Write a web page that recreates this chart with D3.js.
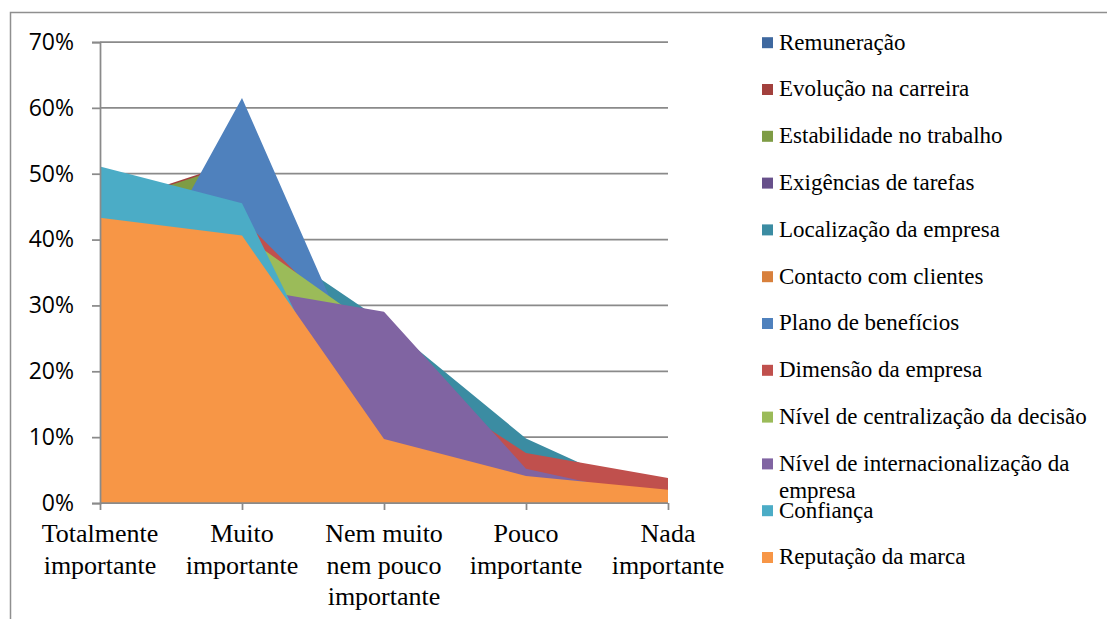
<!DOCTYPE html>
<html>
<head>
<meta charset="utf-8">
<script src="https://cdn.jsdelivr.net/npm/d3@7"></script>
<style>
  html, body { margin: 0; padding: 0; background: #fff; }
  svg { display: block; }
</style>
</head>
<body>
<svg id="chart" width="1107" height="619"></svg>
<script>
// Response categories (x axis), one label line per entry
const categories = ["Totalmente importante", "Muito importante", "Nem muito nem pouco importante", "Pouco importante", "Nada importante"];
const categoryLines = [
  ["Totalmente", "importante"],
  ["Muito", "importante"],
  ["Nem muito", "nem pouco", "importante"],
  ["Pouco", "importante"],
  ["Nada", "importante"]
];
const yTicks = [0, 0.1, 0.2, 0.3, 0.4, 0.5, 0.6, 0.7];

// Share of answers per factor, in category order
const remuneracao         = [0.40, 0.40, 0.14, 0.05, 0.01];
const evolucaoCarreira    = [0.450, 0.521, 0.022, 0.007, 0.000];
const estabilidade        = [0.448, 0.518, 0.024, 0.010, 0.000];
const exigencias          = [0.35, 0.42, 0.17, 0.05, 0.01];
const localizacao         = [0.206, 0.421, 0.275, 0.098, 0.000];
const contacto            = [0.28, 0.42, 0.22, 0.06, 0.02];
const planoBeneficios     = [0.223, 0.615, 0.124, 0.030, 0.008];
const dimensao            = [0.238, 0.432, 0.216, 0.076, 0.038];
const centralizacao       = [0.287, 0.408, 0.255, 0.040, 0.010];
const internacionalizacao = [0.325, 0.3275, 0.2905, 0.052, 0.005];
const confianca           = [0.511, 0.455, 0.014, 0.015, 0.005];
const reputacao           = [0.433, 0.406, 0.097, 0.041, 0.020];

const seriesNames = [
  "Remuneração", "Evolução na carreira", "Estabilidade no trabalho", "Exigências de tarefas",
  "Localização da empresa", "Contacto com clientes", "Plano de benefícios", "Dimensão da empresa",
  "Nível de centralização da decisão", "Nível de internacionalização da empresa", "Confiança", "Reputação da marca"
];
const seriesValues = [
  remuneracao, evolucaoCarreira, estabilidade, exigencias, localizacao, contacto,
  planoBeneficios, dimensao, centralizacao, internacionalizacao, confianca, reputacao
];
const seriesColors = [
  "#3E689F", "#A2403D", "#7E9C45", "#67508B", "#3B8CA2", "#D8803C",
  "#4F81BD", "#C0504D", "#9BBB59", "#8064A2", "#4BACC6", "#F79646"
];
// Legend text, with the long entry split over two lines
const legendLines = seriesNames.map(n =>
  n === "Nível de internacionalização da empresa" ? ["Nível de internacionalização da", "empresa"] : [n]);

const series = seriesNames.map((name, i) => ({ name, values: seriesValues[i], color: seriesColors[i], lines: legendLines[i] }));

const SERIF = "Liberation Serif";
const SANS = "Open Sans";

const svg = d3.select("#chart");
const gridColor = "#8a8a8a";

// outer frame (top and left edges are within the view)
svg.append("rect")
  .attr("x", 10.5).attr("y", 12.5)
  .attr("width", 1200).attr("height", 700)
  .attr("fill", "none").attr("stroke", "#8f8f8f").attr("stroke-width", 1.5);

const x = d3.scalePoint().domain(categories).range([100, 668]);
const y = d3.scaleLinear().domain([0, 0.7]).range([503, 42]);

// horizontal gridlines
svg.append("g")
  .selectAll("line")
  .data(yTicks.filter(t => t > 0))
  .join("line")
  .attr("x1", 100).attr("x2", 668)
  .attr("y1", d => y(d)).attr("y2", d => y(d))
  .attr("stroke", gridColor).attr("stroke-width", 1.75);

// overlapping areas, first series at the back
const area = d3.area()
  .x((d, i) => x(categories[i]))
  .y0(y(0))
  .y1(d => y(d));

svg.append("g")
  .selectAll("path")
  .data(series)
  .join("path")
  .attr("d", d => area(d.values))
  .attr("fill", d => d.color);

// y axis
const yAxis = d3.axisLeft(y).tickValues(yTicks).tickFormat(d3.format(".0%")).tickSize(8).tickPadding(18);
const gy = svg.append("g").attr("transform", "translate(100,0)").call(yAxis);
gy.select(".domain").attr("stroke", gridColor).attr("stroke-width", 1.75);
gy.selectAll(".tick line").attr("stroke", gridColor).attr("stroke-width", 1.75);
gy.selectAll(".tick text")
  .attr("font-family", SANS).attr("font-size", 23)
  .style("font-family", SANS).style("font-size", "23px")
  .attr("fill", "#000");

// x axis
const xAxis = d3.axisBottom(x).tickSize(7).tickFormat("");
const gx = svg.append("g").attr("transform", "translate(0,503)").call(xAxis);
gx.select(".domain").attr("stroke", gridColor).attr("stroke-width", 1.75).attr("d", "M100,0H668");
gx.selectAll(".tick line").attr("stroke", gridColor).attr("stroke-width", 1.75);

const xLabels = svg.append("g");
categories.forEach((c, i) => {
  categoryLines[i].forEach((ln, j) => {
    xLabels.append("text")
      .attr("x", x(c)).attr("y", 542 + j * 31.5)
      .attr("text-anchor", "middle")
      .attr("font-family", SERIF).attr("font-size", 26)
      .style("font-family", SERIF).style("font-size", "26px")
      .attr("fill", "#000")
      .text(ln);
  });
});

// legend
const legend = svg.append("g");
series.forEach((s, i) => {
  const cy = 42.7 + i * 46.8;
  legend.append("rect")
    .attr("x", 762).attr("y", cy - 5.5)
    .attr("width", 11).attr("height", 11)
    .attr("fill", s.color);
  s.lines.forEach((ln, j) => {
    legend.append("text")
      .attr("x", 779).attr("y", cy + 6.8 + j * 27)
      .attr("font-family", SERIF).attr("font-size", 23)
      .style("font-family", SERIF).style("font-size", "23px")
      .attr("fill", "#000")
      .text(ln);
  });
});
</script>
</body>
</html>
